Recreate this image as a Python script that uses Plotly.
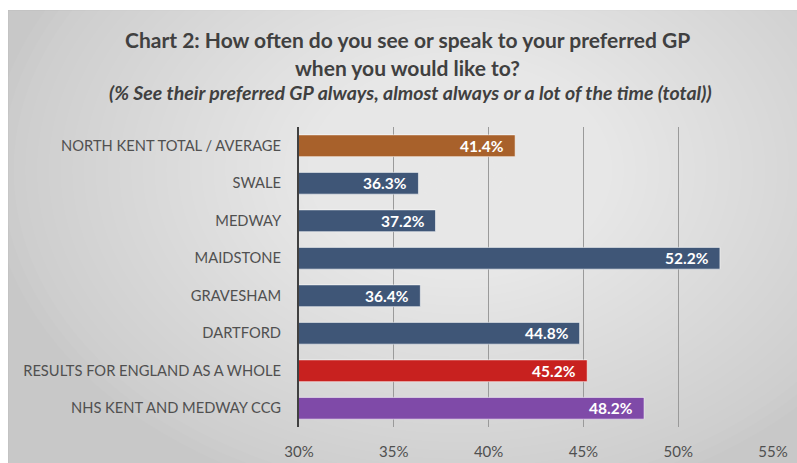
import plotly.graph_objects as go

# Survey results: % who see their preferred GP always / almost always / a lot of the time
areas = [
    "NORTH KENT TOTAL / AVERAGE",
    "SWALE",
    "MEDWAY",
    "MAIDSTONE",
    "GRAVESHAM",
    "DARTFORD",
    "RESULTS FOR ENGLAND AS A WHOLE",
    "NHS KENT AND MEDWAY CCG",
]
values = [41.4, 36.3, 37.2, 52.2, 36.4, 44.8, 45.2, 48.2]
bar_colors = ["#A8612B", "#3F5677", "#3F5677", "#3F5677", "#3F5677",
              "#3F5677", "#C8211F", "#7F4AA8"]
tick_vals = [30, 35, 40, 45, 50, 55]
tick_text = ["30%", "35%", "40%", "45%", "50%", "55%"]

W, H = 797, 463
M_L, M_R, M_T, M_B = 299, 24, 127, 36
PW, PH = W - M_L - M_R, H - M_T - M_B


def px_x(x):
    return (x - M_L) / PW


def px_y(y):
    return (H - M_B - y) / PH


FONT = "Lato"
TXT = "#404040"

fig = go.Figure()
fig.add_trace(go.Bar(
    y=areas,
    x=values,
    base=0,
    orientation="h",
    marker=dict(color=bar_colors, line=dict(color="rgba(255,255,255,0.55)", width=1)),
    width=0.58,
    hoverinfo="skip",
))

# value labels at the end of each bar
for a, v in zip(areas, values):
    fig.add_annotation(
        x=v, y=a, xref="x", yref="y", text=f"<b>{v:.1f}%</b>",
        xanchor="right", xshift=-9, showarrow=False,
        font=dict(family=FONT, size=15.5, color="white"),
    )

shapes = []
# chart area background with a soft radial highlight
shapes.append(dict(type="rect", xref="paper", yref="paper", layer="below",
                   x0=px_x(8), x1=px_x(W + 2), y0=px_y(H + 2), y1=px_y(10),
                   fillcolor="#c8c8c8", line=dict(color="#bdbdbd", width=1)))
cx, cy = 460, 170
n = 40
for i in range(n):
    f = 1 - i / n
    rx, ry = 470 * f, 340 * f
    shapes.append(dict(type="circle", xref="paper", yref="paper", layer="below",
                       x0=px_x(cx - rx), x1=px_x(cx + rx),
                       y0=px_y(cy + ry), y1=px_y(cy - ry),
                       fillcolor="rgba(255,255,255,0.039)", line=dict(width=0)))
# white margin outside the chart area
shapes.append(dict(type="rect", xref="paper", yref="paper", layer="below",
                   x0=px_x(-20), x1=px_x(8), y0=px_y(H + 20), y1=px_y(-20),
                   fillcolor="white", line=dict(width=0)))
shapes.append(dict(type="rect", xref="paper", yref="paper", layer="below",
                   x0=px_x(-20), x1=px_x(W + 20), y0=px_y(10), y1=px_y(-20),
                   fillcolor="white", line=dict(width=0)))

fig.update_layout(
    width=W, height=H,
    margin=dict(l=M_L, r=M_R, t=M_T, b=M_B),
    paper_bgcolor="white",
    plot_bgcolor="rgba(0,0,0,0)",
    showlegend=False,
    shapes=shapes,
    font=dict(family=FONT, color=TXT),
    xaxis=dict(
        range=[30, 55], tickvals=tick_vals, ticktext=tick_text,
        showgrid=True, gridcolor="#9a9a9a", gridwidth=1,
        zeroline=False, showline=False, ticks="",
        tickfont=dict(family=FONT, size=15, color="#505050"),
        ticklabelstandoff=14, automargin=False,
    ),
    yaxis=dict(
        autorange="reversed", showgrid=False, ticks="",
        showline=True, linecolor="#404040", linewidth=2,
        tickfont=dict(family=FONT, size=14.7, color="#505050"),
        ticklabelstandoff=13, automargin=False,
    ),
    annotations=list(fig.layout.annotations) + [
        dict(xref="paper", yref="paper", x=px_x(407), y=px_y(40),
             text="<b>Chart 2: How often do you see or speak to your preferred GP</b>",
             showarrow=False, xanchor="center", yanchor="middle",
             font=dict(family=FONT, size=21, color=TXT)),
        dict(xref="paper", yref="paper", x=px_x(407), y=px_y(67),
             text="<b>when you would like to?</b>",
             showarrow=False, xanchor="center", yanchor="middle",
             font=dict(family=FONT, size=21, color=TXT)),
        dict(xref="paper", yref="paper", x=px_x(410), y=px_y(92),
             text="<b><i>(% See their preferred GP always, almost always or a lot of the time (total))</i></b>",
             showarrow=False, xanchor="center", yanchor="middle",
             font=dict(family=FONT, size=19.5, color=TXT)),
    ],
)

fig.write_html("out.html")
